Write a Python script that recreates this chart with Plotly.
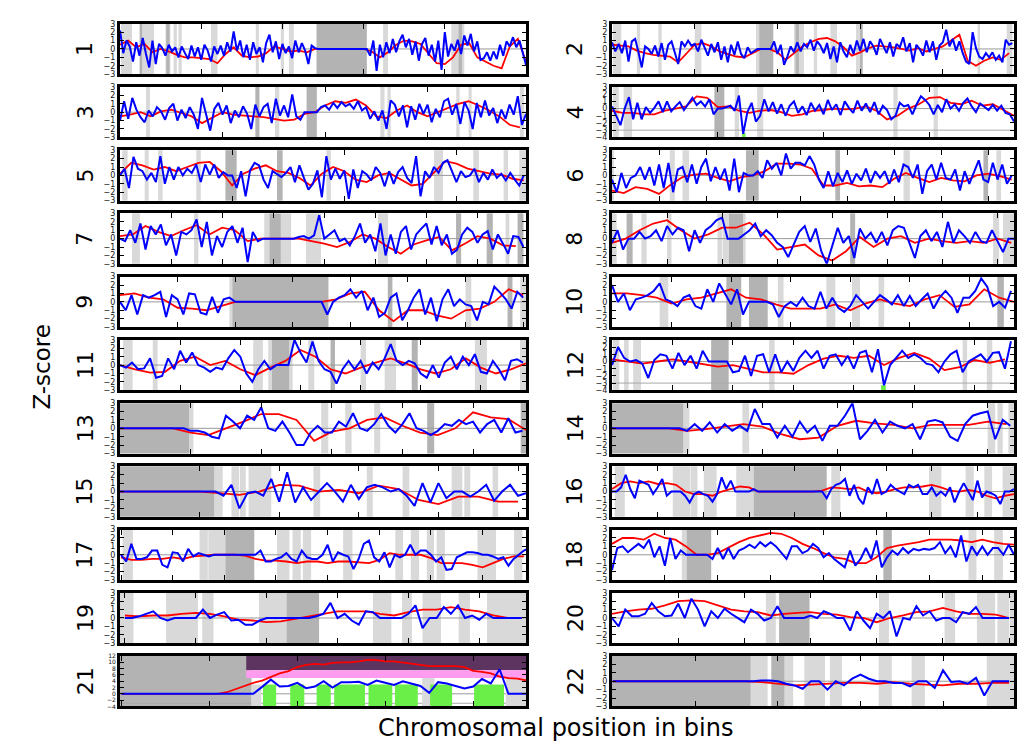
import plotly.graph_objects as go

# ---------------- data ----------------
chrom_labels = [str(i) for i in range(1, 23)]

x_ranges = [[0, 250], [0, 243], [0, 198], [0, 190], [0, 181], [0, 171], [0, 159], [0, 146],
            [0, 141], [0, 135], [0, 135], [0, 133], [0, 115], [0, 107], [0, 102], [0, 88],
            [-0.2, 78.4], [0, 76], [-0.7, 56.6], [0, 60.75], [-0.15, 46], [-0.1, 48.6]]
x_dtick = [50] * 5 + [20] * 10 + [10] * 7
y_ranges = [[-3, 3]] * 22
y_ranges = [r if i not in (3, 11, 20) else ([-4, 12] if i == 20 else [-4, 3]) for i, r in enumerate(y_ranges)]
blue_step = [2] * 15 + [1] * 7
red_step = [5] * 15 + [2, 2, 2, 2, 2, 1, 2]

blue_1 = [2.2, -0.5, 1.0, 0.3, -1.5, 0.8, -0.8, 1.3, -0.6, -2.2, 1.0,
          -1.8, 0.6, 0.1, -0.8, 0.5, -0.3, 0.2, -1.0, 0.3, -0.5,
          -1.2, 0.4, -0.9, 0.2, -1.3, 0.5, -0.2, -1.5, 0.3, -0.6,
          0.4, -0.8, 0.8, -0.3, 2.1, -0.2, 1.0, -1.0, 0.5, -1.3,
          0.8, -0.6, 0.2, -1.6, 0.7, 1.7, -0.4, 0.9, -1.2, 0.6,
          -0.5, 0.3, -1.1, 1.0, -0.4, 0.7, -0.2, -1.8, 0.4, 0.1,
          0, 0, 0, 0, 0, 0, 0, 0, 0, 0, 0, 0, 0, 0, 0, 0,
          -0.8, 1.0, -2.6, 0.5, -1.0, 0.8, -0.5, 1.2, -0.4,
          0.9, 1.7, 0.2, 1.2, -0.7, 0.9, -1.4, 0.6, 1.3, -0.8,
          0.5, -1.5, 1.0, -2.5, 2.0, -0.9, 0.6, -0.2, 1.1, -0.6,
          1.6, 0.4, 1.8, -0.3, 0.9, -1.3, -1.1, -0.4, -1.4, -0.3,
          -1.2, 0.5, -0.8, 0.9, 0.3, 1.4, 0.2, 1.0, -0.3, -1.9]
red_1 = [0.5, 1.0, 0.2, 0.6, -0.4, 0.0, -0.3, -0.7, -1.0, -1.0, -1.1, -1.2, -1.7, -0.6, 0.2, -0.8,
         -1.0, -0.9, -0.5, 0.3, 0.0, -0.3, -0.2, -0.4, 0.0, 0, 0, 0, 0, 0, 0, -0.3, -1.0, -0.4, 0.5,
         1.0, 0.9, 0.6, -0.6, -1.7, -1.8, -1.0, 0.5, 0.7, -1.0, -1.5, -2.0, -2.3, 0.3, 1.2, -1.5]

blue_2 = [0.8, -0.3, 0.6, -0.5, 1.0, -1.5, 0.9, 1.2, -0.4, -2.2, 0.3,
          0.0, -0.6, 0.4, -0.9, 0.7, -1.3, 0.5, 0.9, -0.4, -1.8,
          0.9, 0.3, 1.0, 0.4, 0.6, -0.3, 1.1, 0.2, -0.8, 0.6,
          -0.4, 0.8, -1.3, 0.3, -1.6, 0.5, -0.7, 0.9, -0.6, -1.1,
          0.2, -0.5, -0.2, 0, 0, 0, 0, 0, 0.9, -0.6,
          0.5, -1.9, -0.9, 0.3, -0.4, 0.8, -0.3, 0.6, 0.2, 1.1,
          -0.2, 0.9, 0.4, -0.5, 0.7, -1.2, 0.3, -1.6, 0.8, -0.3,
          -1.0, 0.5, -0.6, 1.0, -0.2, 1.2, -0.4, 0.9, 0.3, -0.7,
          1.2, 0.4, -0.5, 0.8, -0.9, 0.6, 0.2, 1.4, -0.3, 0.7,
          -1.6, 0.5, 0.0, -0.8, 1.0, -0.4, 0.9, -1.3, 0.4, 0.8,
          2.3, 0.3, 1.2, -0.2, 0.9, -0.5, -1.5, -1.8, 2.0, 0.1,
          -0.9, -1.2, -0.5, -1.0, -0.4, -1.3, -0.8, -1.6, 1.1, 0.5, 0.7]
red_2 = [0.5, 0.4, 0.3, -0.2, -0.5, -0.7, -0.8, -0.9, -1.6, -0.5, 0.5, 0.7, 0.3, -0.3, -0.6, -0.9,
         -1.0, -0.5, 0.0, 0.0, -0.4, -1.3, -0.5, 0.3, 0.8, 1.2, 1.3, 0.9, 0.2, -0.8, -0.4, 0.1, 0.4,
         0.3, 0.2, 0.0, -0.2, 0.1, -0.3, 0.0, 0.3, 1.0, 1.7, -1.4, -2.0, -1.4, -1.0, -1.3, -0.5]

blue_3 = [-1.0, 1.3, -0.8, 1.7, 0.3, -0.6, -1.2, 0.2, -0.5, 0.6,
          0.1, -0.9, 0.5, 1.0, -1.0, 0.3, -0.7, 0.6, -0.3, -2.0,
          1.7, -0.4, -2.2, 0.4, 1.1, -0.3, 0.8, -1.3, 0.2, -0.6,
          0.7, -0.2, -2.0, 0.9, -0.5, 0.6, 1.0, -1.3, 1.6, -0.4,
          0.8, -0.6, 2.1, -0.5, -0.9, 0.0, 0, 0, 0, 0.6,
          0.8, 0.3, 1.1, 0.5, 1.2, 0.7, 1.0, 0.4, 1.3, 0.2,
          0.6, -0.8, 0.1, -1.0, 0.2, -2.0, 1.4, 0.9, -0.5, 0.8,
          -1.8, 0.7, -0.9, 1.0, -0.2, 0.9, -1.2, 0.4, -0.6, 1.3,
          1.6, -0.3, 1.0, -1.4, 1.2, 0.2, -2.0, 1.1, -0.6, 1.4,
          -0.4, 0.5, -1.3, 0.3, -0.8, 0.9, -0.3, 1.9, -1.5, -0.2]
red_3 = [-0.5, -0.3, 0.0, -0.5, 0.1, 0.3, -0.1, -0.5, -1.3, -0.6, 0.0, -0.3, -0.4, -0.5, -0.6, -0.8,
         -1.0, -0.9, -0.2, 0.0, 0.8, 1.3, 1.1, 1.5, 0.8, -0.5, -0.7, 0.2, 0.8, 0.0, -0.5, 0.0, 0.5,
         1.0, 1.3, 0.8, 0.2, -0.5, -1.5, -1.8]

blue_4 = [0.3, -1.0, -2.3, 0.0, 1.6, -1.5, 0.8, -1.5, 0.2, -0.6,
          0.1, 1.0, -0.5, 1.0, -0.4, 0.3, 0.9, -0.2, 0.6, 1.5,
          0.5, 1.0, 0.3, 1.3, -0.8, 0.0, 0.0, 0.2, 0.4, -0.3,
          1.8, -3.5, -0.5, 0.8, -1.8, -1.0, 1.3, -0.4, 0.9, -0.7,
          0.6, -1.0, 0.4, 1.0, -0.6, 0.3, -0.9, 0.8, -0.3, 0.5,
          -0.8, 1.2, -0.2, 0.6, -0.9, 1.0, 0.1, -0.6, 1.1, -0.3,
          0.7, -0.5, 0.9, -0.8, 0.4, -0.2, -1.5, -1.0, 0.8, 0.3,
          0.5, -0.8, 0.6, 1.7, 1.2, 0.5, -0.8, 0.5, -0.5, 1.3,
          0.0, 0.6, -0.3, 0.8, 1.4, 0.3, -0.5, 0.7, 0.3, -0.2,
          0.5, -0.3, 0.4, -0.6, -0.8, -1.8]
red_4 = [-0.3, -0.6, -0.6, -0.8, -0.8, -0.3, 0.0, 0.3, 1.7, 1.5, 0.2, 0.3, -0.3, -0.6, -0.3, -0.2,
         -0.5, -1.0, -0.8, -0.3, -0.2, 0.0, -0.1, 0.0, 0.3, -0.3, -1.5, -1.0, 0.0, 0.6, 1.5, 1.6,
         0.8, 0.6, 1.1, 0.4, 0.6, -0.2, -1.0]

blue_5 = [0.0, 0.8, -1.5, 2.2, 0.8, 0.5, -0.5, 0.3, -0.8, 2.3,
          -1.0, 1.0, -0.5, 1.0, 0.0, 0.8, 0.3, 1.3, -0.8, 1.3,
          0.1, 1.3, -0.3, 0.4, 0.0, 0.0, -1.5, 0.5, -2.5, 0.6,
          1.5, 1.2, -0.5, -1.5, 0.5, 0.2, -0.2, 0.3, 1.0, -0.8,
          1.2, -0.3, -1.7, -1.0, 0.6, -2.6, 2.3, -0.5, 0.8, -0.4,
          0.6, -2.8, 0.7, -1.5, 0.5, 0.1, -0.6, 1.0, 0.3, -1.3,
          0.5, -1.0, 0.4, 1.0, -0.3, -0.9, 2.3, -2.5, 0.5, -0.3,
          1.0, 0.3, 1.5, 1.8, 0.5, -0.8, 0.5, -0.2, 0.0, 0.8,
          -0.8, 0.3, -0.5, 0.7, -0.3, 0.2, -0.6, 0.3, -0.5, -1.2,
          0.0]
red_5 = [0.2, 1.5, 1.2, 0.7, 1.0, 0.5, 1.0, 1.5, 1.6, 0.5, -1.2, 0.2, 0.8, 1.2, 0.5, 0.3, -0.3,
         -1.2, 0.2, 1.0, 0.5, -0.5, -0.8, 0.0, 0.3, -0.5, -1.2, -1.0, 0.3, 1.7, 1.4, 0.8, 0.5, 0.2,
         0.1, -0.4, -0.6]

blue_6 = [-0.5, -2.0, 0.3, -1.5, -0.3, 0.0, 1.0, -0.5, 1.0, -1.2,
          1.3, -1.5, 1.5, -2.0, 0.7, 1.0, -0.8, 1.3, -1.0, 1.0,
          2.0, -0.7, 1.0, -0.5, 0.8, -1.8, 2.0, -2.0, 0.3, 0.0,
          0.0, 0.5, -0.3, 1.8, 0.8, 1.5, 0.0, 2.6, 0.8, 1.5,
          1.5, 1.2, 2.3, 1.3, -0.5, -1.5, 0.5, -1.3, 0.3, -0.8,
          0.6, -1.0, 0.2, -0.6, 0.8, -0.9, 0.5, -0.3, 0.5, -1.0,
          0.7, -0.8, 1.3, 1.0, -0.3, 1.3, -2.2, 0.5, 1.3, -0.5,
          1.5, -0.3, -0.5, 0.7, -1.8, 0.5, -1.0, 0.5, 1.8, -0.5,
          -0.8, 1.5, -0.5, 1.3, -1.0, 0.0]
red_6 = [-1.8, -2.1, -1.4, -1.6, -2.2, -1.1, -0.2, 0.1, 0.2, -0.3, -0.7, -0.2, 0.0, 0.5, 1.4, 1.4,
         1.3, 0.8, -1.2, -1.2, -0.9, -1.3, -1.2, -1.4, -0.4, 0.3, -0.3, -0.8, -0.3, -0.6, -0.7, 0.0,
         0.2, -0.1, -0.5]

blue_7 = [0.0, -0.3, 1.0, -0.5, 1.8, -1.3, 1.5, 0.5, 1.7, -0.8,
          0.5, -2.0, 0.8, 0.5, 1.0, 2.3, -1.0, 2.0, -2.0, 0.3,
          -1.0, 0.8, 1.5, -0.5, 1.3, -2.8, 0.8, -0.3, 0.0, 0.0,
          0.0, 0.0, 0.0, 0.0, 0.0, 0.2, 0.3, 0.0, 0.4, 2.8,
          0.0, 0.5, 1.0, -0.3, 0.0, -0.8, 0.3, 1.8, -0.5, 0.5,
          -1.5, 1.8, -2.0, 0.5, -1.8, 0.8, 1.5, -1.3, 0.5, 1.2,
          1.8, -0.7, 1.5, -0.8, 0.5, -1.8, -1.3, 0.5, 1.3, 0.8,
          -0.5, 0.5, 0.9, -1.3, 0.5, -0.6, -1.8, 0.3, 0.2, -1.0]
red_7 = [0.3, 0.5, 1.5, 0.8, 0.3, 1.0, 1.6, 0.5, 1.3, 1.0, -0.3, 0.0, 0.0, 0.0, 0.0, -0.3, -0.6,
         -1.0, -0.4, 0.5, 0.0, -1.0, -1.8, -0.7, -0.2, 0.2, -1.4, -0.6, 0.3, 0.0, -0.8, -0.9]

blue_8 = [-0.5, 1.0, -1.3, 0.0, 0.0, 0.8, 0.0, 0.3, 1.0, -0.3,
          1.5, 0.5, 1.3, 1.0, -1.5, 1.0, -0.5, 1.0, 1.5, 2.2,
          2.5, 0.0, 0.0, 0.0, 0.5, 1.0, 1.8, 0.3, 1.0, 0.4,
          -0.5, -1.0, -2.2, -0.8, 0.8, 1.5, -0.4, 1.2, -1.5, -3.0,
          -0.8, 1.3, -0.5, 0.3, -2.3, 1.2, 0.0, 0.7, -0.5, 0.8,
          -0.8, 1.0, 1.5, 1.3, -0.5, -2.3, 0.3, 1.0, -0.3, 0.8,
          -1.0, 2.0, -0.5, 1.0, 0.3, -0.5, 0.8, -0.3, -0.5, 1.0,
          -0.3, -1.6, 0.0, 0.0]
red_8 = [-0.5, 0.0, 1.0, 1.8, 2.2, 1.0, 0.0, 0.5, 1.3, 1.3, 1.9, 0.5, -1.3, -1.0, -0.7, -2.0, -2.6,
         -1.5, 0.2, -1.0, 0.0, 0.3, -0.5, 0.0, -0.3, -0.5, -0.3, -0.5, 0.0, -0.5]

blue_9 = [0.0, -1.0, 0.8, -1.5, 0.8, 0.5, 0.8, 1.2, -1.8, 0.8,
          0.3, -1.5, 1.0, 0.9, -1.3, -1.5, 0.6, -1.3, 0.3, 0.5,
          0, 0, 0, 0, 0, 0, 0, 0, 0, 0, 0, 0, 0, 0, 0, 0,
          -1.5, 0.0, 0.5, 0.8, 1.5, 0.5, 1.3, -1.0, 0.5,
          -1.8, -1.3, 0.5, 1.0, -2.2, -1.0, 0.5, 1.5, -1.5, 0.5,
          -2.3, 0.3, 1.5, -0.5, 0.3, -0.3, -0.5, -2.2, 0.0, -0.3,
          1.8, 1.1, 0.3, -0.8, 1.2, 0.5]
red_9 = [0.8, 1.0, 0.5, 0.3, -0.7, -0.8, -1.0, -0.5, 0.0, 0.0, 0.0, 0.0, 0.0, 0.0, 0.0, 0.3, 1.0,
         1.2, -1.0, -2.3, -1.0, -1.0, -1.6, -2.0, -1.0, -0.8, 0.0, 1.5, 0.8]

blue_10 = [2.0, 0.0, 1.0, -1.0, 0.3, 0.5, 0.8, 1.3, 2.2, 0.3,
           0.0, -0.5, 0.5, 0.8, -0.5, -0.8, 1.5, 0.0, 2.2, 1.0,
           -0.3, 1.5, -1.5, 0.0, 0.0, 0.0, 0.0, -0.3, -1.8, -0.5,
           0.0, -0.5, 0.5, -0.5, -0.8, 1.2, -0.8, 0.5, -0.7, -1.2,
           -0.5, 0.8, 0.0, -0.8, 0.0, 0.8, 0.3, -0.3, 0.8, -0.5,
           0.7, -0.5, 0.3, 1.0, -0.8, 0.5, 1.3, 0.5, -1.3, 0.5,
           0.5, 1.3, 2.8, 1.8, -0.5, 0.0, -0.7, 1.3]
red_10 = [1.0, 1.0, 0.8, 0.5, -0.2, 0.3, 0.5, 1.0, 1.5, 0.5, 0.3, -0.3, -0.8, -0.8, -0.8, -0.3,
          -1.0, -0.2, 0.3, -0.2, -0.5, 0.3, 0.8, -0.6, -0.3, 1.5, 0.5, 0.0]

blue_11 = [0.0, -0.3, 0.3, -0.5, -0.4, 0.8, -1.5, -1.3, 0.8, -0.5,
           1.7, 0.3, 1.5, 0.0, -0.3, -0.8, -0.3, -0.5, 0.8, 1.8,
           1.0, -1.0, -2.0, -0.5, 0.5, -0.5, 0.0, 0.0, 0.0, 3.0,
           1.5, 0.3, 2.8, 0.5, -0.5, -0.8, -2.2, -0.5, 0.5, -0.5,
           0.5, -1.0, 0.3, -0.5, 0.8, 2.5, 0.5, 0.0, 0.5, 0.2,
           -1.0, -1.5, 0.0, -1.5, 0.3, 1.0, -0.5, 1.0, 0.0, 1.3,
           -0.8, -1.0, 0.5, -0.5, -1.8, 0.5, 0.7, 0.3]
red_11 = [0.0, -0.5, -0.9, -0.8, 0.5, 1.0, 0.0, 0.5, -0.5, -1.2, -0.3, 0.5, 1.8, 1.0, -0.5, -1.0,
          -0.3, 0.3, 0.8, 0.2, -0.5, -1.0, -0.5, 0.8, -0.3, -1.0, -0.5, 0.2]

blue_12 = [-0.5, 2.0, 0.5, 0.0, 0.2, -0.3, -2.3, 0.2, 1.0, 0.8,
           -1.0, 1.2, -0.5, 0.8, -1.0, 1.5, 0.0, 0.0, 0.0, 0.0,
           -1.5, -1.3, 0.8, -2.0, 0.8, 1.0, -1.5, 1.0, -1.5, 0.0,
           -1.3, 0.5, 1.5, 0.5, 1.5, -1.0, 0.8, 1.0, -0.5, 0.8,
           -1.0, 1.2, 1.5, -1.5, 1.7, -3.3, -0.5, 0.5, 1.5, 0.5,
           1.0, 0.5, -0.3, -0.5, -1.5, 0.0, 1.0, 1.5, -1.5, 0.0,
           0.5, 1.0, 0.0, 1.2, 1.3, -1.0, 2.8]
red_12 = [0.3, 0.0, -0.3, 0.0, 0.3, 0.0, -0.3, -0.7, -0.5, -1.0, -1.5, -1.5, -1.7, -0.5, 0.4, 0.8,
          0.5, 0.8, -0.5, 0.5, 1.2, 0.4, -1.2, -0.8, 0.2, -0.2, 0.3]

blue_13 = [0, 0, 0, 0, 0, 0, 0, 0, 0, 0,
           -0.3, -0.3, -0.5, -1.0, -1.2, 1.5, 0.8, 0.0, 1.5, 1.0,
           2.5, 0.0, -0.3, 0.8, -0.5, -2.0, -2.0, -0.5, 0.3, -0.5,
           -0.5, 0.8, 0.2, 1.8, 0.0, -0.3, 0.5, 1.7, 0.3, -0.5,
           0.5, 1.8, 0.0, -0.3, -0.8, -0.3, 0.5, 0.3, 1.0, 0.5,
           0.8, -0.5, 0.5, 1.0, -0.5, 1.2, -0.5, -0.3]
red_13 = [0.0, 0.0, 0.0, 0.0, -0.5, -0.8, 0.0, 0.8, 1.7, 1.7, 1.0, -1.5, -0.4, 0.0, 1.0, 1.3, 0.3,
          -0.5, -0.8, 0.0, 1.9, 1.3, 1.1, -0.2]

blue_14 = [0, 0, 0, 0, 0, 0, 0, 0, 0, 0,
           -0.3, 0.5, -0.3, 0.7, -0.5, 0.5, -0.3, 0.3, -0.3, 2.3,
           0.5, 0.5, -1.1, 0.3, -1.0, 0.8, -0.5, 0.3, -1.5, 0.3,
           0.3, 1.5, 3.0, -1.3, -0.3, 1.0, -0.5, 0.8, 0.3, 0.0,
           0.5, -1.3, 0.8, 1.0, 0.7, -1.0, -1.5, 0.5, 1.5, 1.8,
           2.0, -1.3, 1.0, 0.3]
red_14 = [0.0, 0.0, 0.0, 0.0, -0.3, -0.1, 0.2, 0.5, 0.2, -0.7, -1.3, -1.1, 0.3, 0.9, 0.6, 0.4, 0.0,
          0.4, 0.4, 0.4, 0.8, 0.5]

blue_15 = [0, 0, 0, 0, 0, 0, 0, 0, 0, 0, 0, 0,
           0.0, -0.5, 0.8, -2.0, -0.2, 0.0, -0.5, 1.5, -1.2, 2.3,
           -1.3, 0.5, -1.0, 0.0, 1.0, 0.0, -1.2, 0.8, -0.9, 0.5,
           0.8, 0.5, 0.0, 0.3, -0.5, -1.7, 1.0, -1.3, 1.0, -0.8,
           0.0, 0.0, -0.6, 0.0, 0.8, -1.1, 0.0, 0.8, -0.5, -0.2]
red_15 = [0.0, 0.0, 0.0, 0.0, 0.0, -0.2, -0.4, 0.0, 0.8, 0.7, 0.0, 0.2, -0.2, 0.7, 0.3, -1.0, -1.5,
          -0.6, -0.6, -1.2, -1.2]

blue_16 = [0.0, 0.0, 0.5, 2.0, 0.3, -0.8, 1.3, 1.0, 0.8, -0.3,
           0.5, 1.5, -0.5, 0.0, 0.0, 0.0, -0.5, -1.3, -0.3, 0.0,
           -0.3, -0.5, -1.2, -0.3, 1.7, 0.3, 1.3, 0.0, 0.0, 0.0,
           0.0, 0.3, 0, 0, 0, 0, 0, 0, 0, 0,
           0, 0, 0, 0, 0, 0, 0, -0.8, 0.3, 0.8,
           1.0, 1.5, -0.5, 0.8, -0.8, -1.5, 0.5, -0.3, 1.5, -0.3,
           0.0, 0.8, 0.3, 0.0, -0.3, 0.8, 0.5, 0.8, -0.3, -0.3,
           0.5, -0.5, 0.0, -0.5, 0.5, -1.3, 0.0, 1.0, 0.0, -1.0,
           1.3, -0.7, 0.0, -0.2, -0.5, -1.5, 0.0, 0.0, 0.3]
red_16 = [0.3, 1.0, 1.2, 1.0, 1.2, 0.9, 1.0, 0.8, 0.0, -0.3, -0.3, -0.5, 0.0, 0.3, 0.6, 0.5, 0.0,
          0.0, 0.0, 0.0, 0.0, 0.0, 0.0, 0.1, 0.5, 0.4, 0.3, 0.5, 0.0, -0.2, 0.0, 0.3, 0.5, 0.5, 0.6,
          0.8, 0.5, 0.1, 0.0, 0.2, 0.0, -0.5, -0.8, -0.5, -0.3]

blue_17 = [0.0, -0.8, 1.3, -0.5, -0.5, -0.3, 0.5, 0.5, -1.2, -1.5,
           0.3, 0.2, -0.8, 0.7, -0.2, 0.2, 0.0, -0.2, 0.0, 0.0,
           0.0, 0.0, 0.0, 0.0, 0.0, 0.0, 0.0, 0.5, -0.8, -0.8,
           -0.5, -0.3, 0.2, -0.5, -0.8, 0.5, -0.3, -0.5, -0.5, 0.0,
           1.2, -0.8, 0.3, 0.0, -0.2, -1.7, -0.5, 1.3, 1.7, -0.3,
           -0.8, 0.3, -1.5, 0.0, -0.3, 0.0, 1.2, 0.0, 0.5, 0.5,
           0.0, -0.8, -0.3, -1.8, -1.7, -0.3, 0.0, 0.3, 0.3, 0.2,
           0.0, 0.0, -0.2, -0.5, -0.3, -1.3, -0.5, 0.0, 0.5, 0.8]
red_17 = [-0.3, -0.6, -0.6, -0.5, -0.5, -0.3, -0.5, -0.2, -0.1, 0.0, 0.0, 0.0, -0.1, -0.5, -0.7,
          -0.7, -0.8, -1.0, -0.8, -0.8, -1.0, -0.8, -0.8, -0.9, -1.0, -0.6, 0.2, 0.0, 0.0, 0.0, -0.4,
          -1.0, -1.0, -1.0, -1.2, -1.5, -1.0, -0.5, -0.2, -0.2]

blue_18 = [-1.8, 0.8, 1.0, 0.3, 0.8, 1.3, 0.8, 1.8, -0.3, 1.0,
           -1.3, 2.0, -0.5, 0.5, 0.0, 0.0, 0.0, 0.0, 0.0, -0.5,
           0.8, -0.5, 0.8, -0.5, 0.5, 0.8, 1.2, 0.8, 1.5, 1.0,
           1.5, 1.0, 0.3, -0.5, 1.0, 1.0, 0.2, 0.5, 1.3, 0.8,
           -0.3, 0.2, -0.5, -1.0, -1.5, 0.5, -1.3, -0.5, 0.8, -0.5,
           1.7, -1.5, -0.3, 0.5, 0.0, 0.8, 0.2, 0.7, 0.5, 0.7,
           0.6, 0.8, 1.5, 0.2, 1.0, -0.3, 2.3, -0.8, 1.0, 0.0,
           1.0, 0.0, 0.8, 0.8, 0.0, 1.2, 0.0]
red_18 = [1.3, 2.0, 2.0, 1.8, 2.5, 2.0, 1.8, 1.0, 0.0, 0.0, 0.2, 0.8, 1.5, 2.0, 2.3, 2.6, 2.5, 2.0,
          1.3, 0.8, 0.2, -0.3, -0.5, -1.0, -1.0, -0.3, 0.8, 1.1, 1.3, 1.5, 1.8, 1.8, 1.8, 1.7, 1.5,
          1.8, 1.5, 1.3, 1.2]

blue_19 = [0.0, 0.0, 0.2, 0.5, 0.8, 0.0, -0.3, 0.0, 0.0, 0.0,
           0.0, 1.0, 0.0, 0.4, 0.7, -0.3, -0.2, -0.8, -0.8, -0.3,
           0.0, 0.0, 0.0, 0.0, 0.0, 0.0, 0.0, 0.2, 0.5, 1.8,
           0.0, 0.5, -0.3, -0.8, 0.8, 0.7, 0.0, 0.0, 0.0, 0.0,
           0.5, 1.5, -1.2, 0.0, 0.0, 1.3, 0.5, 1.5, 0.0, 0.3,
           -0.2, 0.5, 0.0, 0.0, 0.0, 0.0, 0.0]
red_19 = [0.3, 0.2, 0.3, 0.3, 0.5, 0.6, 0.5, 0.2, -0.2, -0.3, -0.5, -0.4, -0.1, 0.2, 0.5, 0.8, 0.8,
          0.8, 0.5, 0.3, 0.7, 1.0, 1.0, 1.3, 1.0, 0.8, 0.3, 0.0, 0.0]

blue_20 = [0.0, -1.0, 1.0, 0.2, 0.2, 0.5, 1.8, 0.8, 0.2, 0.3,
           1.7, 0.0, 2.3, 1.0, -1.0, 0.8, 0.0, 1.1, 0.5, 0.0,
           -0.5, 1.0, 0.5, -0.3, 0.0, 1.4, 0.0, 0.0, 0.0, 0.0,
           0.3, 0.0, 0.8, 0.5, 0.0, 0.0, -1.5, 0.8, -0.3, -1.2,
           0.5, 0.0, 0.8, -2.2, 0.0, -0.2, 1.4, 0.3, 0.8, -0.3,
           0.0, 0.0, -0.5, 0.7, 0.5, 1.3, 0.0, 0.0, 0.0, 0.0, 0.0]
red_20 = [0.5, 0.8, 1.0, 1.1, 1.5, 2.0, 2.1, 2.0, 1.5, 1.0, 0.8, 0.7, 0.3, 0.5, 0.6, 0.7, 0.5, 0.4,
          0.1, 0.0, -0.5, 0.0, 0.3, 0.7, 0.8, 1.2, 0.8, 0.5, 0.5, 0.4, 0.0]

blue_21 = [0, 0, 0, 0, 0, 0, 0, 0, 0, 0, 0, 0, 0, 0, 0,
           0.0, 2.2, 4.5, 2.3, 2.5, 3.5, 1.8, 2.3, 4.0, 2.0,
           3.7, 3.7, 3.8, 2.8, 4.2, 3.5, 2.8, 4.0, 3.2, 2.5,
           0.3, 3.7, 3.3, 2.5, 1.7, 2.3, 4.7, 3.3, 7.8, 0.0,
           0.0, 0.0]
red_21 = [0, 0, 0, 0, 0, 0, 0, 0, 0, 0, 0, 0, 0.5, 1.5, 2.5, 3.5, 4.2, 5.3, 6.5, 7.2, 8.5, 9.2, 9.5,
          9.3, 9.8, 10.0, 10.0, 10.3, 10.8, 10.7, 10.3, 10.3, 10.0, 9.5, 9.2, 8.8, 8.8, 8.8, 8.8, 8.5,
          7.3, 7.0, 6.5, 5.5, 5.0, 4.8, 4.3]

blue_22 = [0, 0, 0, 0, 0, 0, 0, 0, 0, 0, 0, 0, 0, 0, 0, 0, 0, 0,
           0.1, 0.1, 0.0, -0.3, -0.5, -0.9, 0.0, 0.0, -1.0, 0.0,
           -0.5, 0.3, 0.8, 0.3, 0.0, 0.0, -0.2, -0.2, -0.6, 0.0,
           0.0, -0.8, 1.3, -0.1, 0.0, -0.3, 0.4, -1.7, 0.0, 0.0, 0.0]
red_22 = [0, 0, 0, 0, 0, 0, 0, 0, 0, -0.1, -0.3, -0.5, -0.4, -0.3, -0.2, -0.2, -0.3, -0.1, -0.3,
          -0.4, -0.5, -0.3, -0.3, -0.2, -0.2]

# shaded regions (bin start, bin end)
dark_regions = [
    [(121, 152), (12.2, 13.6), (28.5, 30.5), (208.5, 210.5)],
    [(89, 97.5), (111, 113), (150, 151.5)],
    [(91, 96), (66, 68)],
    [(48.4, 53.1)],
    [(47, 52), (70, 72.5)],
    [(57, 62.4), (95, 97), (158, 160)],
    [(58.5, 63), (131.6, 133.6), (143.6, 146), (155.7, 158)],
    [(5.3, 7.5), (42.5, 47.6), (86.5, 88.3)],
    [(39, 72.4), (93, 94.6), (134.6, 136.3)],
    [(38.4, 43.4), (46, 52.3), (129.4, 131.6)],
    [(50.5, 56.3), (70, 71.5), (97, 99)],
    [(32.8, 38.6)],
    [(0, 19.6), (87, 89), (113.5, 115)],
    [(0, 19)],
    [(0, 23.7)],
    [(31, 47)],
    [(20.2, 25.8)],
    [(14.1, 18.75), (51.3, 52.9)],
    [(22.8, 27.4)],
    [(25.25, 29.85)],
    [(-0.15, 14.8)],
    [(-0.1, 16.7), (19.2, 20.8)],
]
light_regions = [
    [(0.6, 7.4), (12, 21), (28, 31), (33, 35), (36, 38), (56, 60), (83.6, 85.5), (99, 101),
     (104, 107), (162, 165), (204, 212)],
    [(0.6, 5.6), (15, 17), (28, 30), (50, 54), (87, 89), (110, 116), (122, 124), (132, 136),
     (147.5, 151.5), (221, 222.5), (238.6, 242)],
    [(12.7, 14.6), (75.6, 77.7), (127, 129), (130.4, 132), (164, 165.6), (170, 171.5), (195, 197)],
    [(0.5, 3.2), (5.5, 9.5), (58, 60), (68.6, 71.5), (133, 135), (152, 154)],
    [(1, 3.4), (11, 12.8), (17, 19), (34, 36), (92, 94), (140, 144), (157.5, 160), (171, 173),
     (178, 181)],
    [(0, 0.8), (24.6, 26.7), (30, 32.8), (124, 126.7), (163.5, 165.5)],
    [(4.7, 7.8), (29, 30.7), (56.5, 58.5), (63, 67), (72.8, 78.7), (101, 105), (151, 152.5)],
    [(0, 1.7), (10.7, 12.6), (20, 21.6), (38.3, 40), (40.2, 42.5), (47.6, 48.5), (138.4, 140.6),
     (142, 146)],
    [(38, 39), (120, 122), (139, 141)],
    [(16, 18.9), (55.7, 57.6), (72, 75), (80.6, 83.3), (89.5, 91.4)],
    [(1, 4.2), (10.9, 12.5), (44.3, 47.5), (49.3, 50.5), (56.3, 57.4), (62.6, 64.6), (80, 81.8),
     (88, 91.8), (118, 122), (133, 135)],
    [(0.3, 2.4), (4, 5.5), (7, 9.6), (52, 53.8), (116, 117.5), (124, 125.8)],
    [(19.6, 20.8), (57, 59), (63.8, 65.6), (72, 73.7)],
    [(19, 20.6), (34.7, 36.5), (100, 102), (102.6, 104), (105.5, 107)],
    [(23.7, 25.8), (28, 29.9), (30.1, 31.6), (32.3, 38), (48.6, 50.3), (62, 63.5), (71, 72.7),
     (83.3, 86), (86.5, 88), (93.6, 95)],
    [(0.6, 2.8), (13.3, 17.1), (17.2, 18.7), (20.1, 22.9), (27.2, 31), (48, 50), (69.4, 72.1),
     (77.4, 79.2), (81.5, 83.2), (85.5, 88)],
    [(0.3, 2.3), (15.2, 16.8), (16.9, 20.2), (30.2, 32.6), (33.2, 34.8), (35.2, 36.8), (43, 44.8),
     (53.1, 54.6), (56.1, 57.7), (59.2, 60.6), (61.1, 62.7), (69, 72.6), (76.1, 77.7)],
    [(13.2, 14.1), (67.4, 68.9), (72.25, 73.9)],
    [(-0.7, 1.2), (5.8, 10.3), (10.9, 12.5), (18.9, 22.8), (35, 37.6), (39.1, 40.5), (42, 44.6),
     (47.1, 48.7), (51.1, 56.6)],
    [(23.25, 24.75), (40.35, 41.85), (50.25, 51.85), (55.15, 57.9), (58.25, 60), (60.1, 60.75)],
    [],
    [(16.7, 18.75), (20.8, 21.85), (23.2, 25.7), (26.3, 27.75), (32.2, 33.8), (36.2, 37.8),
     (45.3, 48.6)],
]
# chromosome 21 / 4 / 12 partial-height boxes: (x0, x1, y0, y1)
light_boxes_21 = [(14.8, 15.9, -4, 3), (34.2, 35.6, -4, 5), (43.7, 46, -4, 5)]
purple_boxes_21 = [(14.2, 46, 7.5, 12)]
pink_boxes_21 = [(14.2, 46, 5, 7.5)]
green_boxes = {
    3: [(61.5, 63.1, -4, -3.4)],
    11: [(89, 90.6, -4, -3.3)],
    20: [(16.1, 17.6, -4, 3), (19.2, 20.8, -4, 3), (22.2, 23.8, -4, 3), (24.2, 27.7, -4, 3),
         (28.1, 30.8, -4, 3), (31.1, 33.7, -4, 3), (35.1, 37.6, -4, 3), (40.1, 43.5, -4, 3)],
}

BLUE = [blue_1, blue_2, blue_3, blue_4, blue_5, blue_6, blue_7, blue_8, blue_9, blue_10, blue_11,
        blue_12, blue_13, blue_14, blue_15, blue_16, blue_17, blue_18, blue_19, blue_20, blue_21,
        blue_22]
RED = [red_1, red_2, red_3, red_4, red_5, red_6, red_7, red_8, red_9, red_10, red_11, red_12,
       red_13, red_14, red_15, red_16, red_17, red_18, red_19, red_20, red_21, red_22]

# ---------------- styling ----------------
W, H = 1024, 746
LIGHT = '#d9d9d9'
DARK = '#b3b3b3'
PURPLE = '#5d3360'
PINK = '#ff9cef'
GREEN = '#6aee48'
FONT = 'DejaVu Sans'
col_px = [(120, 526), (612, 1014)]

fig = go.Figure()
shapes = []
annotations = []
layout = {}

for k in range(22):
    row, col = k // 2, k % 2
    sfx = '' if k == 0 else str(k + 1)
    xa, ya = 'x' + sfx, 'y' + sfx
    top, bot = 20 + 64 * row, 71 + 64 * row
    x0p, x1p = col_px[col]
    layout['xaxis' + sfx] = dict(
        domain=[x0p / W, x1p / W], range=x_ranges[k], anchor=ya,
        showline=True, linewidth=3, linecolor='black', mirror='ticks',
        ticks='inside', ticklen=5, tickwidth=1, tickcolor='black',
        tick0=0, dtick=x_dtick[k], showticklabels=False, showgrid=False, zeroline=False)
    ylo, yhi = y_ranges[k]
    tick_size = 6 if k == 20 else 8
    layout['yaxis' + sfx] = dict(
        domain=[1 - bot / H, 1 - top / H], range=[ylo, yhi], anchor=xa,
        showline=True, linewidth=3, linecolor='black', mirror='ticks',
        ticks='inside', ticklen=4, tickwidth=1, tickcolor='black',
        tick0=0, dtick=2 if k == 20 else 1, showgrid=False, zeroline=False,
        tickfont=dict(family=FONT, size=tick_size, color='#111111'))

    for (a, b) in light_regions[k]:
        shapes.append(dict(type='rect', xref=xa, yref=ya + ' domain', x0=a, x1=b, y0=0, y1=1,
                           fillcolor=LIGHT, line=dict(width=0), layer='below'))
    for (a, b) in dark_regions[k]:
        shapes.append(dict(type='rect', xref=xa, yref=ya + ' domain', x0=a, x1=b, y0=0, y1=1,
                           fillcolor=DARK, line=dict(width=0), layer='below'))
    if k == 20:
        for boxes, colr in ((light_boxes_21, LIGHT), (purple_boxes_21, PURPLE), (pink_boxes_21, PINK)):
            for (a, b, c, d) in boxes:
                shapes.append(dict(type='rect', xref=xa, yref=ya, x0=a, x1=b, y0=c, y1=d,
                                   fillcolor=colr, line=dict(width=0), layer='below'))
    for (a, b, c, d) in green_boxes.get(k, []):
        shapes.append(dict(type='rect', xref=xa, yref=ya, x0=a, x1=b, y0=c, y1=d,
                           fillcolor=GREEN, line=dict(width=0), layer='below'))
    shapes.append(dict(type='line', xref=xa + ' domain', yref=ya, x0=0, x1=1, y0=0, y1=0,
                       line=dict(color='#999999', width=1), layer='below'))
    if ylo < -3:
        shapes.append(dict(type='line', xref=xa + ' domain', yref=ya, x0=0, x1=1, y0=-3, y1=-3,
                           line=dict(color='#aaaaaa', width=1), layer='below'))

    rs, bs = red_step[k], blue_step[k]
    fig.add_trace(go.Scatter(x=[i * rs for i in range(len(RED[k]))], y=RED[k], mode='lines',
                             line=dict(color='#ff0000', width=1.8), xaxis=xa, yaxis=ya,
                             showlegend=False, hoverinfo='skip'))
    fig.add_trace(go.Scatter(x=[i * bs for i in range(len(BLUE[k]))], y=BLUE[k], mode='lines',
                             line=dict(color='#0000ff', width=2), xaxis=xa, yaxis=ya,
                             showlegend=False, hoverinfo='skip'))

    lx = 85 if col == 0 else 575
    annotations.append(dict(text=chrom_labels[k], x=lx / W, y=1 - (top + bot) / 2 / H,
                            xref='paper', yref='paper', showarrow=False, textangle=-90,
                            xanchor='center', yanchor='middle',
                            font=dict(family=FONT, size=22, color='black')))

annotations.append(dict(text='Z-score', x=42 / W, y=1 - 368 / H, xref='paper', yref='paper',
                        showarrow=False, textangle=-90, xanchor='center', yanchor='middle',
                        font=dict(family=FONT, size=23, color='black')))
annotations.append(dict(text='Chromosomal position in bins', x=555 / W, y=1 - 733 / H,
                        xref='paper', yref='paper', showarrow=False, xanchor='center',
                        yanchor='middle', font=dict(family=FONT, size=24, color='black')))

fig.update_layout(width=W, height=H, autosize=False, margin=dict(l=0, r=0, t=0, b=0),
                  paper_bgcolor='white', plot_bgcolor='white', shapes=shapes,
                  annotations=annotations, **layout)
fig.write_html('out.html')
